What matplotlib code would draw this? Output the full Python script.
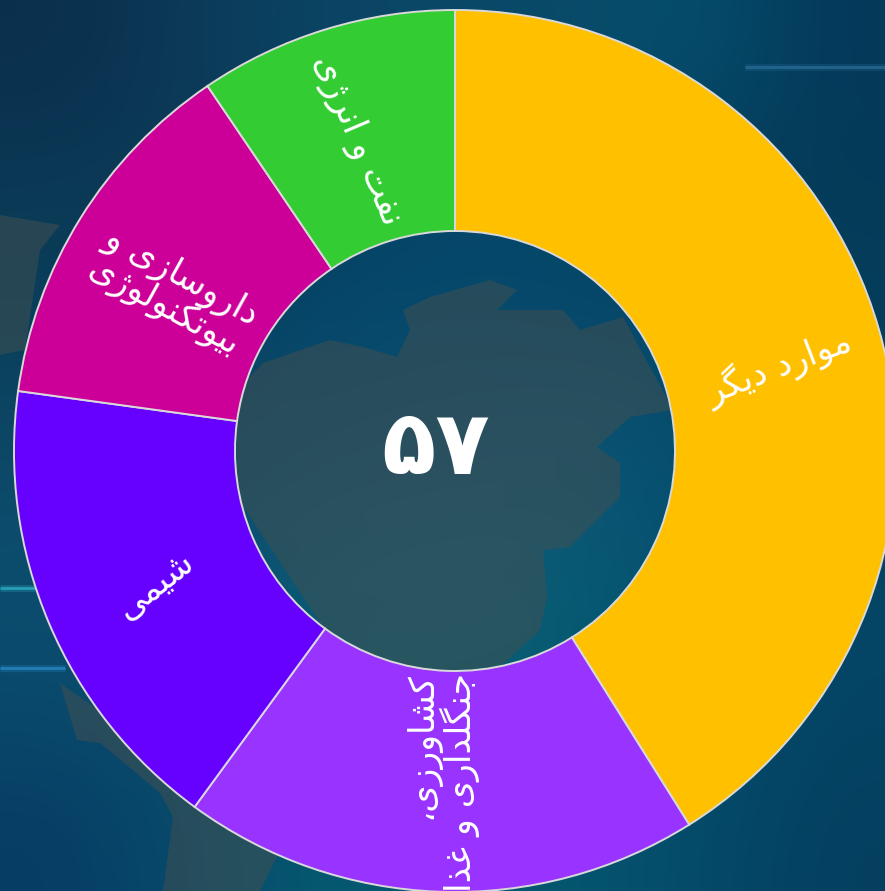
"""Persian donut chart of 57 items by field, on a dark map-like background."""

from __future__ import annotations

import matplotlib

matplotlib.use("Agg")
import matplotlib.pyplot as plt
import numpy as np
from matplotlib.colors import to_rgb
from matplotlib.patches import Polygon

labels = ["موارد دیگر", "کشاورزی،\nجنگلداری و غذا", "شیمی", "داروسازی و\nبیوتکنولوژی", "نفت و انرژی"]
values = [23.4, 10.8, 9.75, 7.6, 5.4]
colors = ["#FFC000", "#9933FF", "#6600FF", "#CC0099", "#33CC33"]
total_label = "۵۷"

label_x = [779, 442, 155, 173, 357]
label_y = [367, 782, 585, 292, 140]
label_rot = [21, 90, 38, -29, -67]

# ocean colours of the backdrop, coarse grid from top left to bottom right
backdrop = [
    ["#0a2f4c", "#0d3a58", "#0a4464", "#0c4868", "#084a68", "#05506e", "#04385a"],
    ["#0b3a56", "#0a3a58", "#063e60", "#05456a", "#05466a", "#053c5a", "#053b58"],
    ["#083e5a", "#083e5c", "#05486c", "#054a6c", "#05486a", "#064868", "#053d5c"],
    ["#0d4866", "#0c4866", "#0c4e6e", "#125070", "#0e5474", "#064e70", "#044060"],
    ["#0c4e70", "#0b5070", "#0c5a76", "#125e7c", "#085c74", "#055070", "#044464"],
    ["#0a4a6c", "#0a4e70", "#065a70", "#045e70", "#045a70", "#054e6c", "#044464"],
    ["#063c64", "#084a6c", "#055870", "#045a6e", "#045670", "#054a6a", "#043f60"],
]

# rough outlines of the faint land masses behind the chart, in pixels
land_shapes = [
    [(247, 380), (263, 363), (330, 340), (363, 347), (397, 357), (410, 330), (403, 310),
     (430, 297), (490, 280), (517, 290), (497, 310), (563, 310), (580, 330), (623, 317),
     (673, 410), (630, 417), (597, 447), (620, 463), (620, 497), (597, 520), (570, 547),
     (543, 550), (547, 597), (540, 630), (497, 670), (397, 670), (323, 627), (237, 497),
     (237, 397)],
    [(60, 683), (77, 740), (100, 743), (160, 793), (173, 817), (163, 891), (260, 891), (285, 840)],
    [(0, 215), (60, 225), (40, 250), (25, 350), (0, 355)],
]
streaks = [(0, 35, 588, "#2fb6c8"), (0, 65, 668, "#2a8ccc"), (745, 885, 67, "#2a6f9a")]

FORMS = {
    "ا": "\ufe8d\ufe8e", "د": "\ufea9\ufeaa", "ذ": "\ufeab\ufeac", "ر": "\ufead\ufeae",
    "ز": "\ufeaf\ufeb0", "ژ": "\ufb8a\ufb8b", "و": "\ufeed\ufeee",
    "ب": "\ufe8f\ufe90\ufe91\ufe92", "ت": "\ufe95\ufe96\ufe97\ufe98",
    "ج": "\ufe9d\ufe9e\ufe9f\ufea0", "س": "\ufeb1\ufeb2\ufeb3\ufeb4",
    "ش": "\ufeb5\ufeb6\ufeb7\ufeb8", "غ": "\ufecd\ufece\ufecf\ufed0",
    "ف": "\ufed1\ufed2\ufed3\ufed4", "ک": "\ufb8e\ufb8f\ufb90\ufb91",
    "گ": "\ufb92\ufb93\ufb94\ufb95", "ل": "\ufedd\ufede\ufedf\ufee0",
    "م": "\ufee1\ufee2\ufee3\ufee4", "ن": "\ufee5\ufee6\ufee7\ufee8",
    "ی": "\ufbfc\ufbfd\ufbfe\ufbff",
}


def shape_line(line: str) -> str:
    """Join the letters by hand, matplotlib does no Arabic shaping."""
    out = []
    for i, ch in enumerate(line):
        forms = FORMS.get(ch)
        if forms is None:
            out.append(ch)
            continue
        prev = FORMS.get(line[i - 1]) if i > 0 else None
        after = FORMS.get(line[i + 1]) if i + 1 < len(line) else None
        joins_prev = prev is not None and len(prev) == 4
        joins_next = after is not None and len(forms) == 4
        if len(forms) == 2:
            out.append(forms[1] if joins_prev else forms[0])
        elif joins_prev and joins_next:
            out.append(forms[3])
        elif joins_prev:
            out.append(forms[1])
        elif joins_next:
            out.append(forms[2])
        else:
            out.append(forms[0])
    return "".join(reversed(out))


def shape(text: str) -> str:
    return "\n".join(shape_line(line) for line in text.split("\n"))


def main() -> None:
    fig = plt.figure(figsize=(8.85, 8.91), dpi=100)
    ax = fig.add_axes([0, 0, 1, 1])

    grid = np.array([[to_rgb(c) for c in row] for row in backdrop])
    ax.imshow(grid, extent=(0, 885, 0, 891), interpolation="bicubic", aspect="auto", zorder=0)

    for shape_pts in land_shapes:
        pts = [(x, 891 - y) for x, y in shape_pts]
        ax.add_patch(Polygon(pts, closed=True, facecolor="#46504f", edgecolor="none", alpha=0.5, zorder=1))
    for x0, x1, y, color in streaks:
        ax.plot([x0, x1], [891 - y, 891 - y], color=color, lw=5, alpha=0.25, zorder=1, solid_capstyle="butt")
        ax.plot([x0, x1], [891 - y, 891 - y], color=color, lw=2, alpha=0.7, zorder=1, solid_capstyle="butt")

    ax.pie(
        values,
        colors=colors,
        startangle=90,
        counterclock=False,
        radius=441,
        center=(455, 440),
        wedgeprops={"width": 221, "edgecolor": "#d9d9d9", "linewidth": 1.4, "zorder": 2},
    )
    ax.set_xlim(0, 885)
    ax.set_ylim(0, 891)
    ax.set_aspect("auto")
    ax.axis("off")

    for text, x, y, rot in zip(labels, label_x, label_y, label_rot):
        ax.text(
            x, 891 - y, shape(text), color="white", fontsize=25, rotation=rot,
            ha="center", va="center", multialignment="right" if rot == 90 else "center",
            linespacing=1.0, family="DejaVu Sans", zorder=3,
        )
    ax.text(436, 891 - 449, total_label, color="white", fontsize=64, fontweight="bold",
            ha="center", va="center", family="DejaVu Sans", zorder=3)

    fig.savefig("out.png", dpi=100)
    plt.close(fig)


if __name__ == "__main__":
    main()
